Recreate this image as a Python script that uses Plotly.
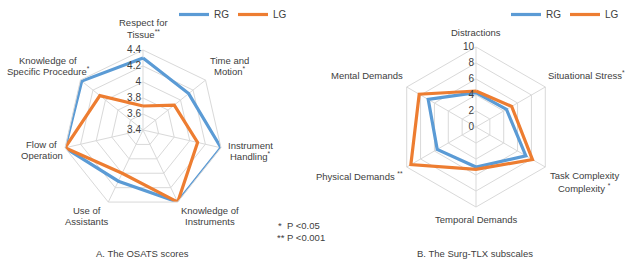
import plotly.graph_objects as go

# ---------------- data ----------------
osats_categories = [
    "Respect for<br>Tissue<sup>**</sup>",
    "Time and<br>Motion<sup>*</sup>",
    "Instrument<br>Handling<sup>*</sup>",
    "Knowledge of<br>Instruments",
    "Use of<br>Assistants",
    "Flow of<br>Operation",
    "Knowledge of<br>Specific Procedure<sup>*</sup>",
]
osats_rg = [4.3, 4.13, 4.4, 4.4, 4.11, 4.4, 4.38]
osats_lg = [3.7, 3.9, 4.1, 4.4, 4.0, 4.4, 4.09]
osats_ticks = [3.4, 3.6, 3.8, 4.0, 4.2, 4.4]
osats_ticktext = ["3.4", "3.6", "3.8", "4", "4.2", "4.4"]

tlx_categories = [
    "Distractions",
    "Situational Stress<sup>*</sup>",
    "Task Complexity<br>Complexity <sup>*</sup>",
    "Temporal Demands",
    "Physical Demands <sup>**</sup>",
    "Mental Demands",
]
tlx_rg = [4.3, 4.4, 7.2, 5.0, 5.6, 6.9]
tlx_lg = [4.5, 5.15, 8.15, 5.3, 9.4, 8.2]
tlx_ticks = [0, 2, 4, 6, 8, 10]
tlx_ticktext = ["0", "2", "4", "6", "8", "10"]

series_names = ["RG", "LG"]
colors = ["#5b9bd5", "#ed7d31"]

# ---------------- layout constants ----------------
FONT = "Arial, Liberation Sans, sans-serif"
TXT = "#404040"
GRID = "#d9d9d9"
W, H = 629, 264

# label placement (pixel centre x, first-line centre y) for each category, in order
osats_label_pos = [(143, 22.5), (229.5, 60), (250, 145), (210, 210),
                   (87, 210), (41.5, 144.5), (48, 60)]
tlx_label_pos = [(475.5, 32), (586, 75), (584, 175), (476, 219),
                 (359.5, 176), (367, 76)]


def closed(v):
    return list(v) + [v[0]]


fig = go.Figure()

for name, vals, col in zip(series_names, [osats_rg, osats_lg], colors):
    fig.add_trace(go.Scatterpolar(
        r=closed(vals), theta=closed(osats_categories), mode="lines",
        name=name, line=dict(color=col, width=3.2), subplot="polar",
        legend="legend", hoverinfo="skip"))

for name, vals, col in zip(series_names, [tlx_rg, tlx_lg], colors):
    fig.add_trace(go.Scatterpolar(
        r=closed(vals), theta=closed(tlx_categories), mode="lines",
        name=name, line=dict(color=col, width=3.2), subplot="polar2",
        legend="legend2", hoverinfo="skip"))


def polar_cfg(cx, cy, R, rng, tv, tt, cats):
    return dict(
        domain=dict(x=[(cx - R) / W, (cx + R) / W],
                    y=[(H - cy - R) / H, (H - cy + R) / H]),
        bgcolor="white",
        gridshape="linear",
        radialaxis=dict(range=rng, tickvals=tv, ticktext=tt, angle=90, tickangle=90,
                        side="counterclockwise", showline=False, ticks="",
                        gridcolor=GRID, gridwidth=1,
                        tickfont=dict(size=10, color=TXT, family=FONT)),
        angularaxis=dict(rotation=90, direction="clockwise", type="category",
                         categoryorder="array", categoryarray=cats,
                         gridcolor=GRID, linecolor=GRID, showline=True,
                         ticks="", showticklabels=False),
    )


def px_to_paper(x, y):
    return x / W, 1 - y / H


annotations = []
for cats, positions, gap in [(osats_categories, osats_label_pos, 11),
                             (tlx_categories, tlx_label_pos, 12.5)]:
    for cat, (x0, y0) in zip(cats, positions):
        for i, line in enumerate(cat.split("<br>")):
            xp, yp = px_to_paper(x0, y0 + i * gap)
            annotations.append(dict(text=line, x=xp, y=yp, xref="paper", yref="paper",
                                    showarrow=False, xanchor="center", yanchor="middle",
                                    font=dict(size=9.5, color=TXT, family=FONT)))

for text, x, y, anchor in [("A. The OSATS scores", 142, 253, "center"),
                           ("B. The Surg-TLX subscales", 475, 253, "center"),
                           ("*  P <0.05", 276, 225, "left"),
                           ("** P <0.001", 275, 237, "left")]:
    xp, yp = px_to_paper(x, y)
    annotations.append(dict(text=text, x=xp, y=yp, xref="paper", yref="paper",
                            showarrow=False, xanchor=anchor, yanchor="middle",
                            font=dict(size=9.5, color=TXT, family=FONT)))

legend_common = dict(orientation="h", xanchor="left", yanchor="top",
                     font=dict(size=10, color=TXT, family=FONT), bgcolor="rgba(0,0,0,0)",
                     itemwidth=30, entrywidthmode="pixels", entrywidth=14, tracegroupgap=0)

fig.update_layout(
    width=W, height=H,
    margin=dict(l=0, r=0, t=0, b=0),
    paper_bgcolor="white",
    font=dict(family=FONT, size=10, color=TXT),
    polar=polar_cfg(143, 130, 80, [3.4, 4.4], osats_ticks, osats_ticktext, osats_categories),
    polar2=polar_cfg(476, 127, 80, [0, 10], tlx_ticks, tlx_ticktext, tlx_categories),
    legend=dict(x=174 / W, y=1.0, **legend_common),
    legend2=dict(x=506 / W, y=1.0, **legend_common),
    annotations=annotations,
)

fig.write_html("out.html", config={"displayModeBar": False},
               post_script="document.body.style.margin='0px';")
